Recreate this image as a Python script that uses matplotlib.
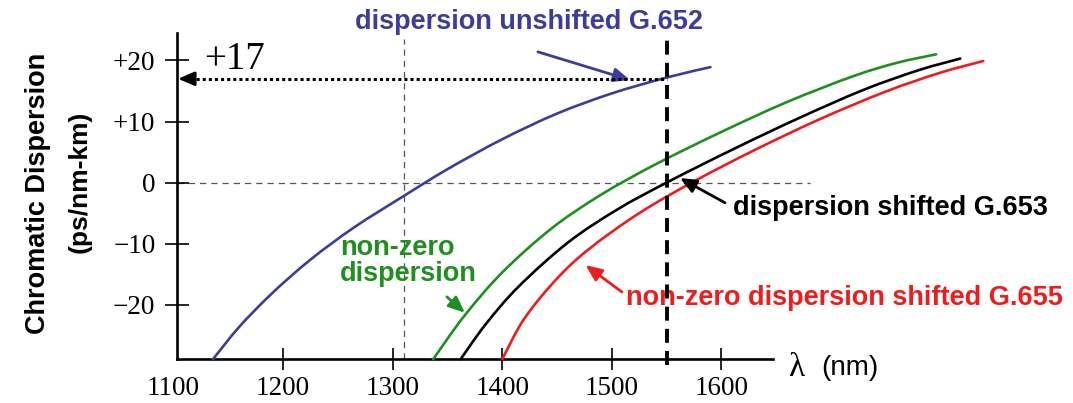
import numpy as np
import matplotlib
matplotlib.use('Agg')
import matplotlib.pyplot as plt
from matplotlib.path import Path
from matplotlib.patches import PathPatch

# chromatic dispersion (ps/nm-km) against wavelength (nm) for each fibre type
g652_wl = [1136, 1160, 1190, 1225, 1265, 1310, 1350, 1400, 1450, 1500, 1550, 1590]
g652_d = [-28.9, -23.6, -18.1, -12.6, -7.3, -2.2, 2.2, 7.1, 11.3, 14.6, 17.2, 18.9]

nz_wl = [1337, 1365, 1400, 1445, 1490, 1540, 1600, 1660, 1720, 1760, 1796]
nz_d = [-28.9, -21.9, -14.7, -7.5, -2.0, 3.0, 8.3, 13.2, 17.4, 19.6, 21.0]

g653_wl = [1362, 1385, 1415, 1460, 1505, 1550, 1610, 1670, 1730, 1780, 1818]
g653_d = [-28.9, -23.15, -17.0, -9.8, -4.4, 0.0, 5.4, 10.5, 15.2, 18.4, 20.3]

g655_wl = [1400, 1420, 1450, 1480, 1525, 1575, 1630, 1690, 1750, 1800, 1839]
g655_d = [-28.9, -22.3, -15.7, -10.75, -5.0, 0.2, 5.3, 10.4, 14.9, 18.0, 19.9]

x_ticks = [1100, 1200, 1300, 1400, 1500, 1600]
y_ticks = [20, 10, 0, -10, -20]
y_tick_labels = ['+20', '+10', '0', '\u221210', '\u221220']

zero_wl = 1310      # G.652 zero-dispersion wavelength
op_wl = 1550        # operating wavelength
op_d652 = 17        # G.652 dispersion at 1550 nm

BLUE = '#3c3c9a'
GREEN = '#1f8f1f'
RED = '#ee1c1c'
SANS = 'Liberation Sans'
SERIF = 'Liberation Serif'


def smooth_path(x, y):
    """Catmull-Rom through the points, as cubic Bezier segments."""
    pts = np.column_stack([x, y]).astype(float)
    verts = [pts[0]]
    codes = [Path.MOVETO]
    n = len(pts)
    for i in range(n - 1):
        p0 = pts[i - 1] if i > 0 else pts[i]
        p1 = pts[i]
        p2 = pts[i + 1]
        p3 = pts[i + 2] if i + 2 < n else pts[i + 1]
        verts += [p1 + (p2 - p0) / 6.0, p2 - (p3 - p1) / 6.0, p2]
        codes += [Path.CURVE4] * 3
    return Path(verts, codes)


def draw_curve(ax, x, y, color):
    ax.add_patch(PathPatch(smooth_path(x, y), fill=False, edgecolor=color,
                           lw=1.9, capstyle='round', zorder=3))


def arrow(ax, start, end, color):
    ax.annotate('', xy=end, xytext=start,
                arrowprops=dict(arrowstyle='-|>,head_length=0.7,head_width=0.3',
                                color=color, lw=2.0, mutation_scale=14,
                                shrinkA=0, shrinkB=0))


fig = plt.figure(figsize=(10.73, 4.03), dpi=100)
ax = fig.add_axes([0, 0, 1, 1])
ax.set_xlim(941.6, 1920.9)
ax.set_ylim(-36.07, 29.89)

y_axis_wl = 1103.1
x_axis_d = -28.9
ax.spines['top'].set_visible(False)
ax.spines['right'].set_visible(False)
ax.spines['left'].set_position(('data', y_axis_wl))
ax.spines['bottom'].set_position(('data', x_axis_d))
ax.spines['left'].set_bounds(x_axis_d, 24.5)
ax.spines['bottom'].set_bounds(y_axis_wl, 1647)
for s in ('left', 'bottom'):
    ax.spines[s].set_linewidth(1.9)

ax.set_xticks(x_ticks)
ax.set_xticklabels([str(t) for t in x_ticks], fontfamily=SERIF, fontsize=19.5)
ax.set_yticks(y_ticks)
ax.set_yticklabels(y_tick_labels, fontfamily=SERIF, fontsize=19.5)
ax.tick_params(axis='x', direction='inout', length=16, width=1.2, pad=4)
ax.tick_params(axis='y', direction='inout', length=17, width=1.2, pad=7)
ax.xaxis.get_major_ticks()[0].tick1line.set_visible(False)

# reference lines
ax.plot([y_axis_wl, 1681], [0, 0], color='#555555', lw=0.9, ls=(0, (5, 4)), zorder=1)
ax.plot([zero_wl, zero_wl], [x_axis_d, 23.5], color='#555555', lw=0.9,
        ls=(0, (5, 4)), zorder=1)
ax.plot([op_wl, op_wl], [x_axis_d - 1.0, 23.6], color='black', lw=2.8,
        ls=(0, (3.6, 2.1)), zorder=4)

# +17 read-off at 1550 nm
ax.plot([y_axis_wl + 12, op_wl], [op_d652, op_d652], color='black', lw=2.2,
        ls=(0, (1, 1)), zorder=4)
arrow(ax, (y_axis_wl + 14, op_d652), (y_axis_wl + 1, op_d652), 'black')
ax.text(1127.8, 20.1, '+17', fontfamily=SERIF, fontsize=28, ha='left', va='center')

draw_curve(ax, g652_wl, g652_d, BLUE)
draw_curve(ax, nz_wl, nz_d, GREEN)
draw_curve(ax, g653_wl, g653_d, 'black')
draw_curve(ax, g655_wl, g655_d, RED)

# curve labels
ax.text(1424.4, 26.3, 'dispersion unshifted G.652', color=BLUE, fontfamily=SANS,
        fontweight='bold', fontsize=19.5, ha='center', va='center')
arrow(ax, (1432.6, 21.4), (1516.6, 16.8), BLUE)

ax.text(1251.9, -12.8, 'non-zero\ndispersion', color=GREEN, fontfamily=SANS,
        fontweight='bold', fontsize=19.5, ha='left', va='center', linespacing=1.0)
arrow(ax, (1349.5, -18.7), (1365.9, -21.3), GREEN)

ax.text(1611, -4.1, 'dispersion shifted G.653', color='black', fontfamily=SANS,
        fontweight='bold', fontsize=19.5, ha='left', va='center')
arrow(ax, (1603.3, -3.3), (1562.2, 0.75), 'black')

ax.text(1512.8, -18.9, 'non-zero dispersion shifted G.655', color=RED,
        fontfamily=SANS, fontweight='bold', fontsize=19.5, ha='left', va='center')
arrow(ax, (1509.2, -17.9), (1476, -13.5), RED)

# axis titles
ax.text(976.3, -1.7, 'Chromatic Dispersion', fontfamily=SANS, fontweight='bold',
        fontsize=19.5, rotation=90, ha='center', va='center')
ax.text(1014.6, 0.1, '(ps/nm-km)', fontfamily=SANS, fontweight='bold',
        fontsize=19, rotation=90, ha='center', va='center')
ax.text(1660.8, -30.3, '\u03bb', fontfamily=SERIF, fontsize=24, ha='left', va='center')
ax.text(1691, -30.3, '(nm)', fontfamily=SANS, fontsize=20, ha='left', va='center')

fig.savefig('out.png', dpi=100)
